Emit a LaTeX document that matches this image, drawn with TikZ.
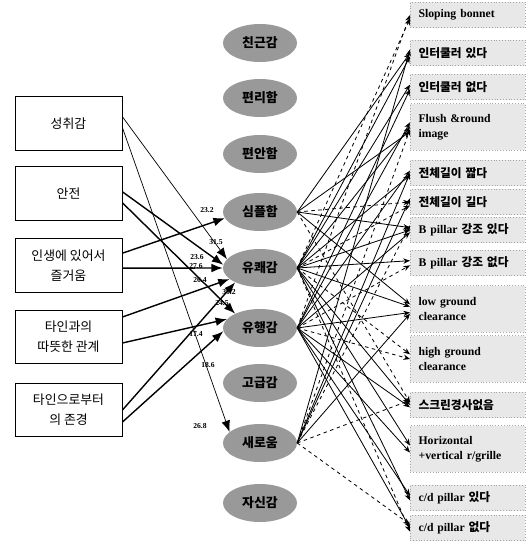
\documentclass[tikz,border=0pt]{standalone}
\usepackage{fontspec}
\setmainfont{Liberation Serif}
\newfontfamily\kr{Noto Sans CJK KR}
\usetikzlibrary{positioning,arrows.meta,shapes.geometric}
\tikzset{
  vbox/.style={draw=black, line width=0.8pt, fill=white, minimum width=3.21cm,
    minimum height=1.6cm, align=center, inner sep=2pt,
    font=\kr\fontsize{11}{17}\selectfont},
  emo/.style={ellipse, fill=black!40, minimum width=2.22cm, minimum height=1.14cm,
    inner sep=0pt, font=\kr\bfseries\fontsize{11}{13}\selectfont},
  attr/.style={draw=black!35, dotted, fill=black!9, minimum width=3.45cm,
    minimum height=0.76cm, text width=2.95cm, align=left, anchor=west,
    inner xsep=0.25cm, inner ysep=1pt, font=\bfseries\fontsize{10}{13}\selectfont},
  varr/.style={-{Latex[length=3.4mm,width=2.6mm]}, line width=1.2pt},
  tarr/.style={varr, line width=0.6pt},
  aarr/.style={-{Stealth[length=2mm,width=1.6mm]}, line width=0.7pt},
  darr/.style={aarr, dashed},
  val/.style={font=\bfseries\fontsize{6.5}{7}\selectfont, inner sep=0.5pt},
}
\begin{document}
\begin{tikzpicture}[x=0.03cm, y=-0.03cm]
  \useasboundingbox (0,0) rectangle (526,542);

  % values
  \node[vbox] (v1) at (68.5,123.5) {성취감};
  \node[vbox] (v2) at (68.5,193.5) {안전};
  \node[vbox] (v3) at (68.5,265.5) {인생에 있어서\\즐거움};
  \node[vbox] (v4) at (68.5,337) {타인과의\\따뜻한 관계};
  \node[vbox] (v5) at (68.5,410) {타인으로부터\\의 존경};

  % emotions
  \node[emo] (e1) at (260,43) {친근감};
  \node[emo] (e2) at (260,98) {편리함};
  \node[emo] (e3) at (260,154) {편안함};
  \node[emo] (e4) at (260,212) {심플함};
  \node[emo] (e5) at (260,268) {유쾌감};
  \node[emo] (e6) at (260,328) {유행감};
  \node[emo] (e7) at (260,383) {고급감};
  \node[emo] (e8) at (260,443) {새로움};
  \node[emo] (e9) at (260,503) {자신감};

  % design attributes
  \node[attr] (a1) at (410,15) {Sloping bonnet};
  \node[attr] (a2) at (410,53) {\kr 인터쿨러 있다};
  \node[attr] (a3) at (410,87) {\kr 인터쿨러 없다};
  \node[attr, minimum height=1.4cm] (a4) at (410,127) {Flush \&round\\image};
  \node[attr] (a5) at (410,173) {\kr 전체길이 짧다};
  \node[attr] (a6) at (410,202) {\kr 전체길이 길다};
  \node[attr] (a7) at (410,230) {B pillar {\kr 강조 있다}};
  \node[attr] (a8) at (410,263) {B pillar {\kr 강조 없다}};
  \node[attr, minimum height=1.4cm] (a9) at (410,309) {low ground\\clearance};
  \node[attr, minimum height=1.4cm] (a10) at (410,359) {high ground\\clearance};
  \node[attr] (a11) at (410,405) {\kr 스크린경사없음};
  \node[attr, minimum height=1.4cm] (a12) at (410,449) {Horizontal\\+vertical r/grille};
  \node[attr] (a13) at (410,498) {c/d pillar {\kr 있다}};
  \node[attr] (a14) at (410,528) {c/d pillar {\kr 없다}};

  % values -> emotions
  \draw[tarr] ([yshift=0.2cm]v1.east) -- (e5.165);
  \draw[tarr] ([yshift=-0.13cm]v1.east) -- (e8.160);
  \draw[varr] ([yshift=0.05cm]v2.east) -- (e5.175);
  \draw[varr] ([yshift=-0.28cm]v2.east) -- (e6.150);
  \draw[varr] ([yshift=0.37cm]v3.east) -- (e4.190);
  \draw[varr] ([yshift=-0.08cm]v3.east) -- (e5.180);
  \draw[varr] ([yshift=0.6cm]v4.east) -- (e5.200);
  \draw[varr] ([yshift=-0.18cm]v4.east) -- (e6.165);
  \draw[varr] ([yshift=0cm]v5.east) -- (e5.210);
  \draw[varr] ([yshift=-0.36cm]v5.east) -- (e6.185);

  \node[val] (l1) at (207,210) {23.2};
  \node[val] (l2) at (216,242) {31.5};
  \node[val] (l3) at (197,257) {23.6};
  \node[val] (l4) at (196,266) {27.6};
  \node[val] (l5) at (200,280) {26.4};
  \node[val] (l6) at (229,292) {30.2};
  \node[val] (l7) at (222,303) {24.5};
  \node[val] (l8) at (196,334) {17.4};
  \node[val] (l9) at (208,365) {18.6};
  \node[val] (l10) at (200,426) {26.8};

  % emotions -> design attributes
  \foreach \s/\t/\o/\st in {
    e4/a2/0/aarr, e4/a4/-4/aarr, e4/a6/0/darr, e4/a7/2/aarr, e4/a9/4/aarr, e4/a11/2/darr,
    e5/a1/-3/darr, e5/a2/-3/aarr, e5/a3/2/aarr, e5/a4/0/aarr, e5/a5/-2/aarr, e5/a6/-3/darr,
    e5/a7/0/aarr, e5/a8/2/aarr, e5/a9/2/aarr, e5/a10/4/darr, e5/a11/0/aarr, e5/a12/3/aarr,
    e5/a13/-2/aarr, e5/a14/-3/darr,
    e6/a1/0/darr, e6/a3/-2/aarr, e6/a4/4/aarr, e6/a5/2/aarr, e6/a7/-2/aarr, e6/a8/-2/darr,
    e6/a9/-3/aarr, e6/a10/0/darr, e6/a11/-2/aarr, e6/a12/-3/aarr, e6/a13/2/aarr, e6/a14/0/aarr,
    e8/a2/3/aarr, e8/a4/-2/darr, e8/a5/0/aarr, e8/a6/3/aarr, e8/a7/4/darr, e8/a9/-4/aarr,
    e8/a11/4/darr, e8/a14/3/darr}
    \draw[\st] (\s.east) -- ([yshift=\o pt]\t.west);
\end{tikzpicture}
\end{document}
